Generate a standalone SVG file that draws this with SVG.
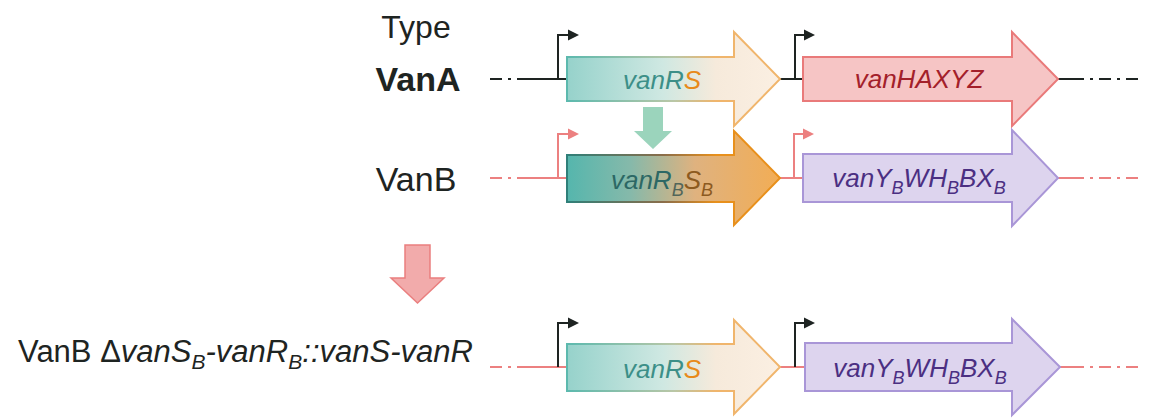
<svg xmlns="http://www.w3.org/2000/svg" width="1152" height="419" viewBox="0 0 1152 419">
<style>
.lbl{font-family:"Liberation Sans",Arial,sans-serif;fill:#1e2422}
.gl{font-family:"Liberation Sans",Arial,sans-serif;font-style:italic;font-size:26px;text-anchor:middle}
.sub{font-size:18px}
.blk{stroke:#1e2422;stroke-width:2;fill:none}
.red{stroke:#ec8080;stroke-width:2;fill:none}
.dd{stroke-dasharray:12 6 3 6}
</style>
<defs>
<linearGradient id="gRSfill" x1="0" y1="0" x2="1" y2="0">
<stop offset="0" stop-color="#96d2cb"/><stop offset="0.45" stop-color="#cfe8e2"/><stop offset="0.7" stop-color="#f6eadb"/><stop offset="1" stop-color="#fbefe2"/>
</linearGradient>
<linearGradient id="gRSstroke" x1="0" y1="0" x2="1" y2="0">
<stop offset="0" stop-color="#5cb9ae"/><stop offset="0.5" stop-color="#b9c7a7"/><stop offset="0.7" stop-color="#f0b56c"/><stop offset="1" stop-color="#f0b56c"/>
</linearGradient>
<linearGradient id="gRBfill" x1="0" y1="0" x2="1" y2="0">
<stop offset="0" stop-color="#55b6ad"/><stop offset="0.3" stop-color="#86b9aa"/><stop offset="0.6" stop-color="#dfb27f"/><stop offset="1" stop-color="#f2ad55"/>
</linearGradient>
<linearGradient id="gRBstroke" x1="0" y1="0" x2="1" y2="0">
<stop offset="0" stop-color="#2f7f79"/><stop offset="0.45" stop-color="#8a6d4a"/><stop offset="0.7" stop-color="#e8901c"/><stop offset="1" stop-color="#e8901c"/>
</linearGradient>
</defs>

<g id="labels">
<text class="lbl" x="416" y="38" font-size="32" text-anchor="middle">Type</text>
<text class="lbl" x="418" y="91" font-size="34" font-weight="bold" text-anchor="middle">VanA</text>
<text class="lbl" x="416" y="191" font-size="34" text-anchor="middle">VanB</text>
<text class="lbl" x="18" y="362" font-size="31">VanB Δ<tspan font-style="italic">vanS</tspan><tspan font-style="italic" font-size="21" dy="7">B</tspan><tspan font-style="italic" dy="-7">-vanR</tspan><tspan font-style="italic" font-size="21" dy="7">B</tspan><tspan font-style="italic" dy="-7">::vanS-vanR</tspan></text>
</g>

<g id="connectors">
<line class="blk dd" x1="490" y1="79" x2="527" y2="79"/>
<line class="blk" x1="527" y1="79" x2="567" y2="79"/>
<line class="blk" x1="780" y1="79" x2="803" y2="79"/>
<line class="blk" x1="1058" y1="79" x2="1072" y2="79"/>
<line class="blk dd" x1="1072" y1="79" x2="1140" y2="79"/>
<line class="red dd" x1="490" y1="178" x2="527" y2="178"/>
<line class="red" x1="527" y1="178" x2="567" y2="178"/>
<line class="red" x1="780" y1="178" x2="803" y2="178"/>
<line class="red" x1="1058" y1="178" x2="1072" y2="178"/>
<line class="red dd" x1="1072" y1="178" x2="1140" y2="178"/>
<line class="red dd" x1="490" y1="367" x2="527" y2="367"/>
<line class="red" x1="527" y1="367" x2="567" y2="367"/>
<line class="red" x1="780" y1="367" x2="805" y2="367"/>
<line class="red" x1="1060" y1="367" x2="1072" y2="367"/>
<line class="red dd" x1="1072" y1="367" x2="1140" y2="367"/>
</g>

<g id="promoters">
<path class="blk" d="M558,79 V35 H569"/><polygon points="568,29.5 579,35 568,40.5" fill="#1e2422"/>
<path class="blk" d="M795,79 V35 H805"/><polygon points="804,29.5 815,35 804,40.5" fill="#1e2422"/>
<path class="red" d="M558,178 V134 H569"/><polygon points="568,128.5 579,134 568,139.5" fill="#ec8080"/>
<path class="red" d="M794,178 V134 H804"/><polygon points="803,128.5 814,134 803,139.5" fill="#ec8080"/>
<path class="blk" d="M558,367 V323 H569"/><polygon points="568,317.5 579,323 568,328.5" fill="#1e2422"/>
<path class="blk" d="M795,367 V323 H805"/><polygon points="804,317.5 815,323 804,328.5" fill="#1e2422"/>
</g>

<g id="transition-arrows">
<polygon points="643,107 663,107 663,131 672,131 653,149 634,131 643,131" fill="#9bd4bc"/>
<polygon points="405,245 430,245 430,278 444,278 417.5,303 391,278 405,278" fill="#f2abab" stroke="#ea7f7f" stroke-width="1.5"/>
</g>

<g id="vanA-vanRS">
<path d="M567,57 H734 V32 L780,79 L734,126 V101 H567 Z" fill="url(#gRSfill)" stroke="url(#gRSstroke)" stroke-width="2"/>
<text class="gl" x="662" y="89"><tspan fill="#3c8f88">vanR</tspan><tspan fill="#e88a1a">S</tspan></text>
</g>
<g id="vanA-vanHAXYZ">
<path d="M803,57 H1012 V32 L1058,79 L1012,126 V101 H803 Z" fill="#f6c5c5" stroke="#e97a7a" stroke-width="2"/>
<text class="gl" x="919" y="88" fill="#a3202a">vanHAXYZ</text>
</g>

<g id="vanB-vanRBSB">
<path d="M567,155 H734 V131 L780,178 L734,225 V202 H567 Z" fill="url(#gRBfill)" stroke="url(#gRBstroke)" stroke-width="2"/>
<text class="gl" x="662" y="189"><tspan fill="#2c6865">vanR</tspan><tspan class="sub" dy="7" fill="#52665a">B</tspan><tspan dy="-7" fill="#8c5a1f">S</tspan><tspan class="sub" dy="7" fill="#8c5a1f">B</tspan></text>
</g>
<g id="vanB-vanYB">
<path d="M803,154 H1012 V130 L1058,178 L1012,226 V202 H803 Z" fill="#ddd4ee" stroke="#a996d7" stroke-width="2"/>
<text class="gl" x="919" y="187" fill="#4b2f82">vanY<tspan class="sub" dy="7">B</tspan><tspan dy="-7">WH</tspan><tspan class="sub" dy="7">B</tspan><tspan dy="-7">BX</tspan><tspan class="sub" dy="7">B</tspan></text>
</g>

<g id="mut-vanRS">
<path d="M567,344 H734 V320 L780,367 L734,414 V391 H567 Z" fill="url(#gRSfill)" stroke="url(#gRSstroke)" stroke-width="2"/>
<text class="gl" x="662" y="378"><tspan fill="#3c8f88">vanR</tspan><tspan fill="#e88a1a">S</tspan></text>
</g>
<g id="mut-vanYB">
<path d="M805,343 H1012 V319 L1060,367 L1012,415 V391 H805 Z" fill="#ddd4ee" stroke="#a996d7" stroke-width="2"/>
<text class="gl" x="920" y="377" fill="#4b2f82">vanY<tspan class="sub" dy="7">B</tspan><tspan dy="-7">WH</tspan><tspan class="sub" dy="7">B</tspan><tspan dy="-7">BX</tspan><tspan class="sub" dy="7">B</tspan></text>
</g>
</svg>
